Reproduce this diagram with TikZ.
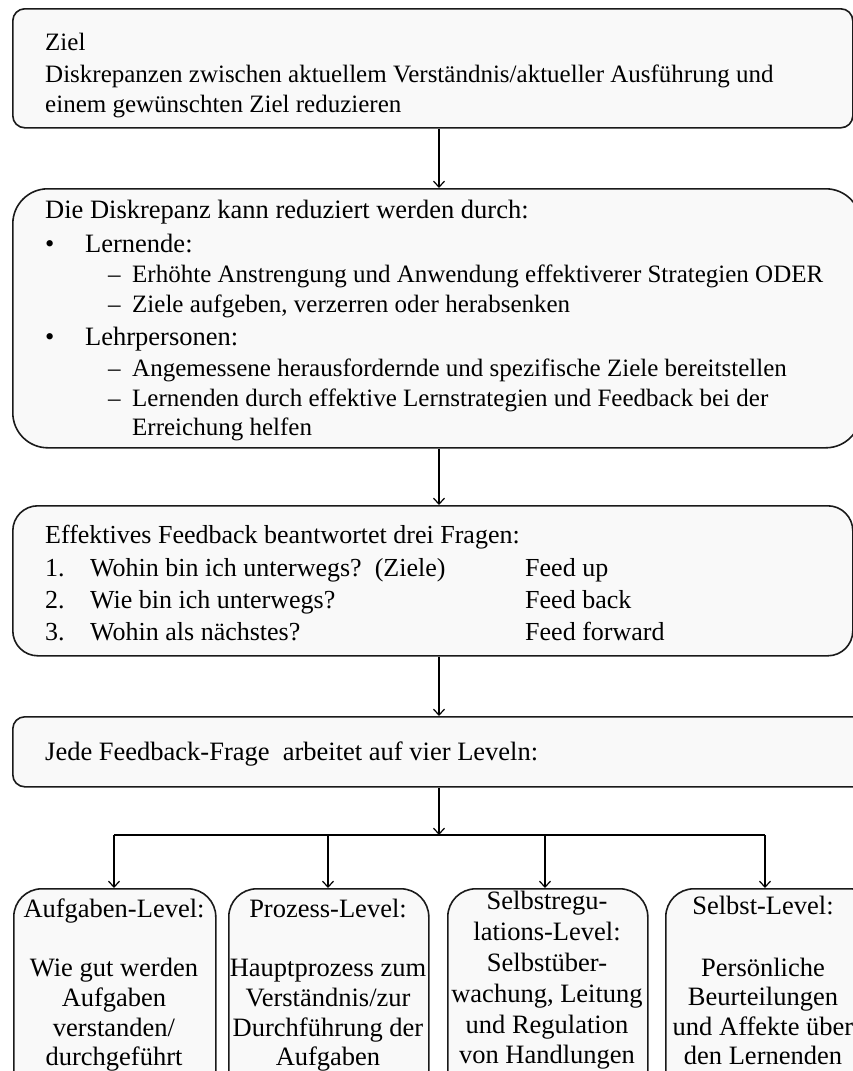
\documentclass[tikz,border=0pt]{standalone}
\usepackage{fontspec}
\setmainfont{Liberation Serif}
\usetikzlibrary{arrows.meta}
\definecolor{boxfill}{HTML}{F9F9F9}
\definecolor{boxline}{HTML}{1A1A1A}
\begin{document}
\begin{tikzpicture}[x=1pt,y=-1pt,
  box/.style={draw=boxline, line width=1.6pt, fill=boxfill, inner sep=0pt, anchor=north west},
  txt/.style={anchor=base west, inner sep=0pt, font=\fontsize{26.5}{30}\selectfont},
  goaltxt/.style={txt, font=\fontsize{25}{30}\selectfont},
  sub/.style={txt, font=\fontsize{25}{30}\selectfont},
  qtxt/.style={txt, font=\fontsize{26}{30}\selectfont},
  ctr/.style={anchor=base, inner sep=0pt, font=\fontsize{26.5}{31}\selectfont},
  arr/.style={line width=1.2pt, -{Straight Barb[length=6pt,width=11pt,line width=1.2pt]}},
  link/.style={line width=1.2pt},
]
\useasboundingbox (0,0) rectangle (853,1071);
\clip (0,0) rectangle (853,1071);

% ---- boxes ----
\node[box, rounded corners=12pt, minimum width=840pt, minimum height=119pt] (b1) at (12,8) {};
\node[box, rounded corners=35pt, minimum width=848pt, minimum height=259pt] (b2) at (12,188) {};
\node[box, rounded corners=25pt, minimum width=840pt, minimum height=150pt] (b3) at (12,505) {};
\node[box, rounded corners=12pt, minimum width=870pt, minimum height=70pt] (b4) at (12,716) {};
\node[box, rounded corners=28pt, minimum width=202pt, minimum height=210pt] (la) at (13,888) {};
\node[box, rounded corners=28pt, minimum width=200pt, minimum height=210pt] (lb) at (228,888) {};
\node[box, rounded corners=28pt, minimum width=200pt, minimum height=210pt] (lc) at (447,888) {};
\node[box, rounded corners=28pt, minimum width=212pt, minimum height=210pt] (ld) at (665,888) {};

% ---- box 1: goal ----
\node[goaltxt] (t1a) at (45,50) {Ziel};
\node[goaltxt] (t1b) at (45,82) {Diskrepanzen zwischen aktuellem Verständnis/aktueller Ausführung und};
\node[goaltxt] (t1c) at (45,112) {einem gewünschten Ziel reduzieren};

% ---- box 2: how the discrepancy is reduced ----
\node[txt] (t2a) at (45,218) {Die Diskrepanz kann reduziert werden durch:};
\node[txt] (t2b) at (45,252) {•};
\node[txt] (t2c) at (85,252) {Lernende:};
\node[sub] (t2d) at (108,282) {–};
\node[sub] (t2e) at (132,282) {Erhöhte Anstrengung und Anwendung effektiverer Strategien ODER};
\node[sub] (t2f) at (108,312) {–};
\node[sub] (t2g) at (132,312) {Ziele aufgeben, verzerren oder herabsenken};
\node[txt] (t2h) at (45,345) {•};
\node[txt] (t2i) at (85,345) {Lehrpersonen:};
\node[sub] (t2j) at (108,376) {–};
\node[sub] (t2k) at (132,376) {Angemessene herausfordernde und spezifische Ziele bereitstellen};
\node[sub] (t2l) at (108,406) {–};
\node[sub] (t2m) at (132,406) {Lernenden durch effektive Lernstrategien und Feedback bei der};
\node[sub] (t2n) at (132,435) {Erreichung helfen};

% ---- box 3: three questions ----
\node[qtxt] (t3a) at (45,543) {Effektives Feedback beantwortet drei Fragen:};
\node[qtxt] (t3b) at (45,576) {1.};
\node[qtxt] (t3c) at (90,576) {Wohin bin ich unterwegs?\ \ (Ziele)};
\node[qtxt] (t3d) at (525,576) {Feed up};
\node[qtxt] (t3e) at (45,608) {2.};
\node[qtxt] (t3f) at (90,608) {Wie bin ich unterwegs?};
\node[qtxt] (t3g) at (525,608) {Feed back};
\node[qtxt] (t3h) at (45,640) {3.};
\node[qtxt] (t3i) at (90,640) {Wohin als nächstes?};
\node[qtxt] (t3j) at (525,640) {Feed forward};

% ---- box 4 ----
\node[txt] (t4a) at (45,760) {Jede Feedback-Frage\ \ arbeitet auf vier Leveln:};

% ---- level boxes ----
\node[ctr] (la1) at (114,917) {Aufgaben-Level:};
\node[ctr] (la2) at (114,976) {Wie gut werden};
\node[ctr] (la3) at (114,1006) {Aufgaben};
\node[ctr] (la4) at (114,1036) {verstanden/};
\node[ctr] (la5) at (114,1065) {durchgeführt};

\node[ctr] (lb1) at (328,917) {Prozess-Level:};
\node[ctr] (lb2) at (328,976) {Hauptprozess zum};
\node[ctr] (lb3) at (328,1006) {Verständnis/zur};
\node[ctr] (lb4) at (328,1036) {Durchführung der};
\node[ctr] (lb5) at (328,1065) {Aufgaben};

\node[ctr] (lc1) at (547,909) {Selbstregu-};
\node[ctr] (lc2) at (547,940) {lations-Level:};
\node[ctr] (lc3) at (547,971) {Selbstüber-};
\node[ctr] (lc4) at (547,1002) {wachung, Leitung};
\node[ctr] (lc5) at (547,1033) {und Regulation};
\node[ctr] (lc6) at (547,1063) {von Handlungen};

\node[ctr] (ld1) at (763,914) {Selbst-Level:};
\node[ctr] (ld2) at (763,976) {Persönliche};
\node[ctr] (ld3) at (763,1005) {Beurteilungen};
\node[ctr] (ld4) at (763,1035) {und Affekte über};
\node[ctr] (ld5) at (763,1064) {den Lernenden};

% ---- connectors ----
\coordinate (mid) at (439,0);
\coordinate (bar) at (439,835);
\coordinate (xa) at (114,0);
\coordinate (xb) at (328,0);
\coordinate (xc) at (545,0);
\coordinate (xd) at (765,0);
\draw[arr] (b1.south -| mid) -- (b2.north -| mid);
\draw[arr] (b2.south -| mid) -- (b3.north -| mid);
\draw[arr] (b3.south -| mid) -- (b4.north -| mid);
\draw[arr] (b4.south -| mid) -- (bar);
\draw[link] (xa |- bar) -- (xd |- bar);
\draw[arr] (xa |- bar) -- (xa |- la.north);
\draw[arr] (xb |- bar) -- (xb |- lb.north);
\draw[arr] (xc |- bar) -- (xc |- lc.north);
\draw[arr] (xd |- bar) -- (xd |- ld.north);
\end{tikzpicture}
\end{document}
